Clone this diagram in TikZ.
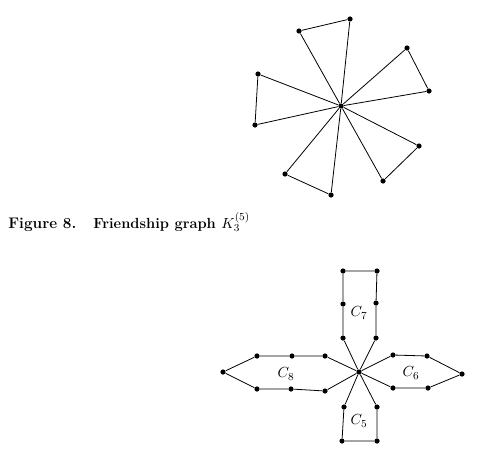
\documentclass[tikz,border=0pt]{standalone}
\begin{document}
\begin{tikzpicture}[x=0.75pt, y=-0.75pt, line width=0.6pt,
    vtx/.style={circle, fill, inner sep=0pt, minimum size=3.9pt},
    lbl/.style={font=\fontsize{11}{13}\selectfont}]
  \useasboundingbox (0,0) rectangle (495,464);
  % friendship graph
  \node[vtx] (o) at (341,106) {};
  \foreach \n/\x/\y in {a1/299/31, a2/350/19, b1/407/48, b2/429/91, c1/419/146,
      c2/383/181, d1/331/195, d2/285/174, e1/255/125, e2/258/74}
    \node[vtx] (\n) at (\x,\y) {};
  \foreach \t in {a,b,c,d,e}
    \draw (o) -- (\t1) -- (\t2) -- (o);
  % caption
  \node[anchor=base west, inner sep=0pt, font=\fontsize{11.5}{14}\selectfont\bfseries] (fig) at (8,228) {Figure 8.};
  \node[anchor=base west, inner sep=0pt, font=\fontsize{11}{14}\selectfont\bfseries] (cap) at (93,228) {Friendship graph $K_3^{(5)}$};
  % cycles glued at one vertex
  \node[vtx] (z) at (359,372) {};
  \foreach \n/\x/\y in {g1/343/338, g2/343/304, g3/343/271, g4/377/271, g5/376/303, g6/376/338,
      f1/393/355, f2/427/356, f3/462/374, f4/428/388, f5/393/388,
      h1/344/407, h2/342/441, h3/377/441, h4/377/407,
      k1/325/356, k2/292/356, k3/257/356, k4/223/372, k5/257/389, k6/291/389, k7/325/391}
    \node[vtx] (\n) at (\x,\y) {};
  \draw (z) -- (g1) -- (g2) -- (g3) -- (g4) -- (g5) -- (g6) -- (z);
  \draw (z) -- (f1) -- (f2) -- (f3) -- (f4) -- (f5) -- (z);
  \draw (z) -- (h1) -- (h2) -- (h3) -- (h4) -- (z);
  \draw (z) -- (k1) -- (k2) -- (k3) -- (k4) -- (k5) -- (k6) -- (k7) -- (z);
  \node[lbl] (l7) at (359,313) {$C_7$};
  \node[lbl] (l6) at (411,373) {$C_6$};
  \node[lbl] (l5) at (359,421) {$C_5$};
  \node[lbl] (l8) at (286,374) {$C_8$};
\end{tikzpicture}
\end{document}
